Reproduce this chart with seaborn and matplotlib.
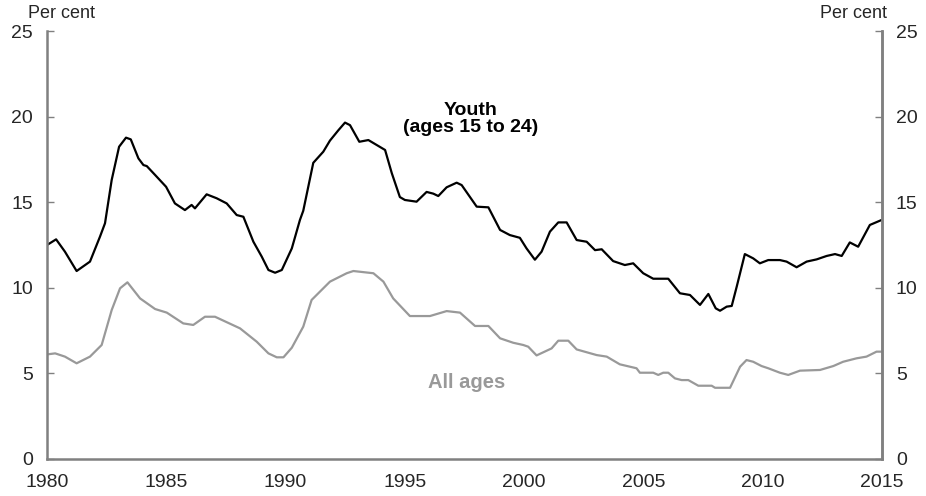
import pandas as pd
import matplotlib
matplotlib.use("Agg")
import matplotlib.pyplot as plt
import seaborn as sns

# Youth unemployment rate (ages 15 to 24), per cent
youth_year = [1980.0, 1980.38, 1980.75, 1981.24, 1981.8, 1982.22, 1982.43, 1982.71, 1983.02, 1983.31,
              1983.51, 1983.83, 1984.04, 1984.18, 1984.53, 1984.99, 1985.36, 1985.78, 1986.06, 1986.2,
              1986.69, 1987.11, 1987.53, 1987.95, 1988.23, 1988.65, 1989.0, 1989.28, 1989.56, 1989.84,
              1990.26, 1990.6, 1990.74, 1991.16, 1991.58, 1991.86, 1992.21, 1992.49, 1992.7, 1993.09,
              1993.47, 1993.82, 1994.17, 1994.45, 1994.79, 1995.0, 1995.49, 1995.91, 1996.19, 1996.4,
              1996.75, 1997.17, 1997.38, 1998.01, 1998.5, 1998.99, 1999.4, 1999.82, 2000.1, 2000.45,
              2000.73, 2001.08, 2001.43, 2001.78, 2002.2, 2002.62, 2002.97, 2003.25, 2003.73, 2004.22,
              2004.57, 2004.99, 2005.41, 2006.04, 2006.53, 2006.95, 2007.37, 2007.72, 2008.03, 2008.21,
              2008.49, 2008.7, 2008.91, 2009.25, 2009.6, 2009.88, 2010.23, 2010.72, 2011.0, 2011.42,
              2011.84, 2012.26, 2012.68, 2013.03, 2013.31, 2013.65, 2014.0, 2014.49, 2014.98]
youth_rate = [12.5, 12.83, 12.11, 10.98, 11.53, 12.99, 13.77, 16.3, 18.24, 18.77,
              18.67, 17.56, 17.17, 17.11, 16.59, 15.9, 14.93, 14.54, 14.84, 14.64,
              15.46, 15.23, 14.93, 14.25, 14.15, 12.69, 11.82, 11.04, 10.88, 11.04,
              12.3, 13.96, 14.5, 17.3, 17.95, 18.6, 19.2, 19.65, 19.5, 18.53,
              18.63, 18.34, 18.05, 16.7, 15.3, 15.13, 15.03, 15.6, 15.5, 15.36,
              15.87, 16.14, 16.0, 14.74, 14.7, 13.38, 13.08, 12.92, 12.3, 11.64,
              12.11, 13.28, 13.82, 13.82, 12.79, 12.69, 12.2, 12.25, 11.56, 11.33,
              11.43, 10.85, 10.53, 10.53, 9.68, 9.58, 9.0, 9.64, 8.8, 8.66,
              8.9, 8.94, 10.07, 11.97, 11.72, 11.43, 11.62, 11.62, 11.53, 11.2,
              11.53, 11.66, 11.86, 11.97, 11.86, 12.65, 12.4, 13.67, 13.96]

# Unemployment rate, all ages, per cent
all_year = [1980.0, 1980.34, 1980.75, 1981.24, 1981.8, 1982.29, 1982.71, 1983.06, 1983.37, 1983.9,
            1984.53, 1985.02, 1985.71, 1986.13, 1986.62, 1987.04, 1988.09, 1988.79, 1989.28, 1989.63,
            1989.91, 1990.26, 1990.74, 1991.09, 1991.86, 1992.56, 1992.84, 1993.68, 1994.1, 1994.51,
            1995.21, 1996.05, 1996.75, 1997.31, 1997.94, 1998.5, 1998.99, 1999.54, 1999.96, 2000.17,
            2000.52, 2001.15, 2001.43, 2001.85, 2002.2, 2003.04, 2003.46, 2004.01, 2004.71, 2004.85,
            2005.41, 2005.62, 2005.83, 2006.04, 2006.32, 2006.6, 2006.88, 2007.3, 2007.86, 2008.0,
            2008.63, 2009.05, 2009.32, 2009.6, 2009.95, 2010.23, 2010.72, 2011.07, 2011.56, 2012.4,
            2012.96, 2013.37, 2013.93, 2014.35, 2014.77, 2014.98]
all_rate = [6.11, 6.17, 5.98, 5.59, 5.98, 6.66, 8.7, 9.97, 10.32, 9.38,
            8.76, 8.55, 7.92, 7.83, 8.31, 8.31, 7.63, 6.85, 6.17, 5.94,
            5.94, 6.5, 7.73, 9.29, 10.36, 10.85, 10.98, 10.85, 10.36, 9.38,
            8.35, 8.35, 8.64, 8.55, 7.77, 7.77, 7.05, 6.79, 6.66, 6.56,
            6.05, 6.46, 6.91, 6.91, 6.4, 6.07, 5.98, 5.53, 5.3, 5.04,
            5.04, 4.91, 5.04, 5.04, 4.71, 4.61, 4.61, 4.28, 4.28, 4.16,
            4.16, 5.39, 5.78, 5.68, 5.43, 5.3, 5.04, 4.91, 5.16, 5.2,
            5.43, 5.68, 5.88, 5.98, 6.27, 6.27]

x_ticks = [1980, 1985, 1990, 1995, 2000, 2005, 2010, 2015]
y_ticks = [0, 5, 10, 15, 20, 25]

sns.set_style("white")
plt.rcParams["font.family"] = ["Liberation Sans", "DejaVu Sans"]

youth_df = pd.DataFrame({"year": youth_year, "rate": youth_rate})
all_df = pd.DataFrame({"year": all_year, "rate": all_rate})

fig = plt.figure(figsize=(9.26, 4.96), dpi=100)
ax = fig.add_axes([0.0508, 0.0746, 0.9017, 0.8629])

sns.lineplot(data=youth_df, x="year", y="rate", ax=ax, color="black", linewidth=1.6)
sns.lineplot(data=all_df, x="year", y="rate", ax=ax, color="#999999", linewidth=1.6)

spine_col = "#808080"
ax.set_xlim(1980, 2015)
ax.set_ylim(0, 25)
ax.set_xticks(x_ticks)
ax.set_yticks(y_ticks)
ax.set_xlabel("")
ax.set_ylabel("")
ax.spines["top"].set_visible(False)
for side in ["left", "bottom", "right"]:
    ax.spines[side].set_color(spine_col)
    ax.spines[side].set_linewidth(1.8)
ax.tick_params(axis="x", direction="in", length=4, width=1, color=spine_col, labelsize=14, pad=11)
ax.tick_params(axis="y", direction="in", length=5, width=1, color=spine_col, labelsize=14, pad=10)

# right axis mirrors the left one
ax2 = ax.twinx()
ax2.set_ylim(0, 25)
ax2.set_yticks(y_ticks)
for side in ["top", "left", "bottom"]:
    ax2.spines[side].set_visible(False)
ax2.spines["right"].set_color(spine_col)
ax2.spines["right"].set_linewidth(1.8)
ax2.tick_params(axis="y", direction="in", length=5, width=1, color=spine_col, labelsize=14, pad=10)

# labels
ax.text(1997.75, 19.85, "Youth\n(ages 15 to 24)", ha="center", va="center",
        fontsize=14, fontweight="bold", color="black", linespacing=1.05)
ax.text(1997.6, 4.45, "All ages", ha="center", va="center",
        fontsize=14.5, fontweight="bold", color="#999999")
fig.text(28 / 926, 1 - 13 / 496, "Per cent", ha="left", va="center", fontsize=13)
fig.text(887 / 926, 1 - 13 / 496, "Per cent", ha="right", va="center", fontsize=13)

fig.savefig("out.png", dpi=100)
